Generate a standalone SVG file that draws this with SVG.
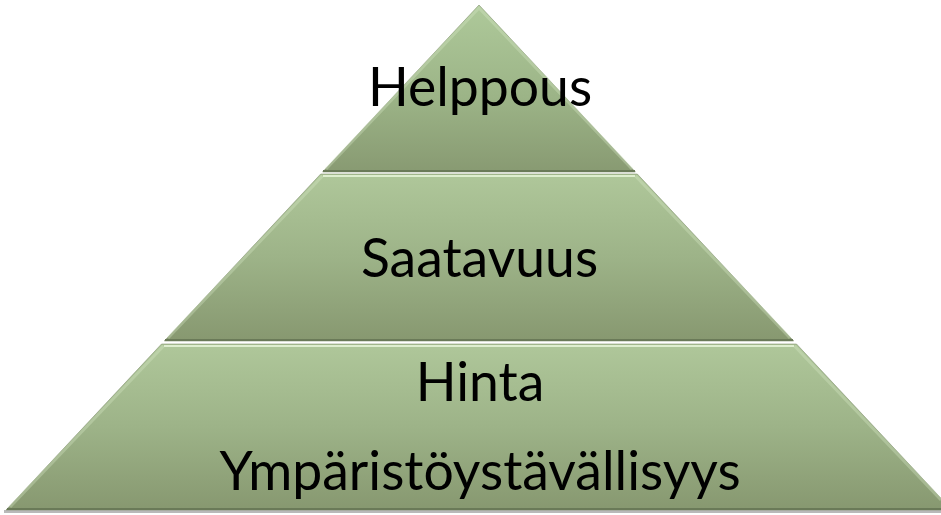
<svg xmlns="http://www.w3.org/2000/svg" width="941" height="515" viewBox="0 0 941 515">
  <style>
    .lbl { font-family: Lato, "Liberation Sans", sans-serif; font-size: 53.5px; fill: #000; text-anchor: middle; }
    .tier { stroke: #7c8c67; stroke-opacity: 0.55; stroke-width: 1; }
    .hi { stroke: #e6f4d8; stroke-opacity: 0.85; stroke-width: 2; fill: none; }
    .edge { stroke: #d6e8c6; stroke-opacity: 0.35; stroke-width: 3; fill: none; }
    .lo { stroke: #6a7a58; stroke-width: 2; fill: none; }
  </style>
  <defs>
    <linearGradient id="gTop" x1="0" y1="5" x2="0" y2="172" gradientUnits="userSpaceOnUse">
      <stop offset="0" stop-color="#aec99a"/>
      <stop offset="0.55" stop-color="#9cb487"/>
      <stop offset="1" stop-color="#889a72"/>
    </linearGradient>
    <linearGradient id="gMid" x1="0" y1="174" x2="0" y2="341" gradientUnits="userSpaceOnUse">
      <stop offset="0" stop-color="#afc79a"/>
      <stop offset="0.5" stop-color="#9db388"/>
      <stop offset="1" stop-color="#879870"/>
    </linearGradient>
    <linearGradient id="gBot" x1="0" y1="344" x2="0" y2="510" gradientUnits="userSpaceOnUse">
      <stop offset="0" stop-color="#afc79a"/>
      <stop offset="0.5" stop-color="#9db388"/>
      <stop offset="1" stop-color="#879870"/>
    </linearGradient>
  </defs>

  <!-- base shadow -->
  <rect x="4" y="510" width="937" height="3" fill="#b9b9b9"/>

  <g id="tier-top">
    <polygon class="tier" points="479,5 635.4,172 322.6,172" fill="url(#gTop)"/>
    <polyline class="edge" points="326,169 479,8 632,169"/>
    <line class="lo" x1="323" y1="171" x2="635" y2="171"/>
    <text class="lbl" x="480" y="106">Helppous</text>
  </g>

  <g id="tier-middle">
    <polygon class="tier" points="320.7,174 637.3,174 793.7,341 164.3,341" fill="url(#gMid)"/>
    <polyline class="edge" points="168,338 322.5,176"/>
    <polyline class="edge" points="635.5,176 790,338"/>
    <line class="hi" x1="323" y1="176" x2="635" y2="176"/>
    <line class="lo" x1="165" y1="340" x2="793" y2="340"/>
    <text class="lbl" x="479.5" y="277">Saatavuus</text>
  </g>

  <g id="tier-bottom">
    <polygon class="tier" points="161.5,344 796.5,344 952,510 6,510" fill="url(#gBot)"/>
    <polyline class="edge" points="10,507 163.5,346"/>
    <polyline class="edge" points="794.5,346 941,500"/>
    <line class="hi" x1="164" y1="346" x2="794" y2="346"/>
    <line class="lo" x1="7" y1="509" x2="941" y2="509"/>
    <text class="lbl" x="480" y="401">Hinta</text>
    <text class="lbl" x="480" y="490">Ympäristöystävällisyys</text>
  </g>
</svg>
